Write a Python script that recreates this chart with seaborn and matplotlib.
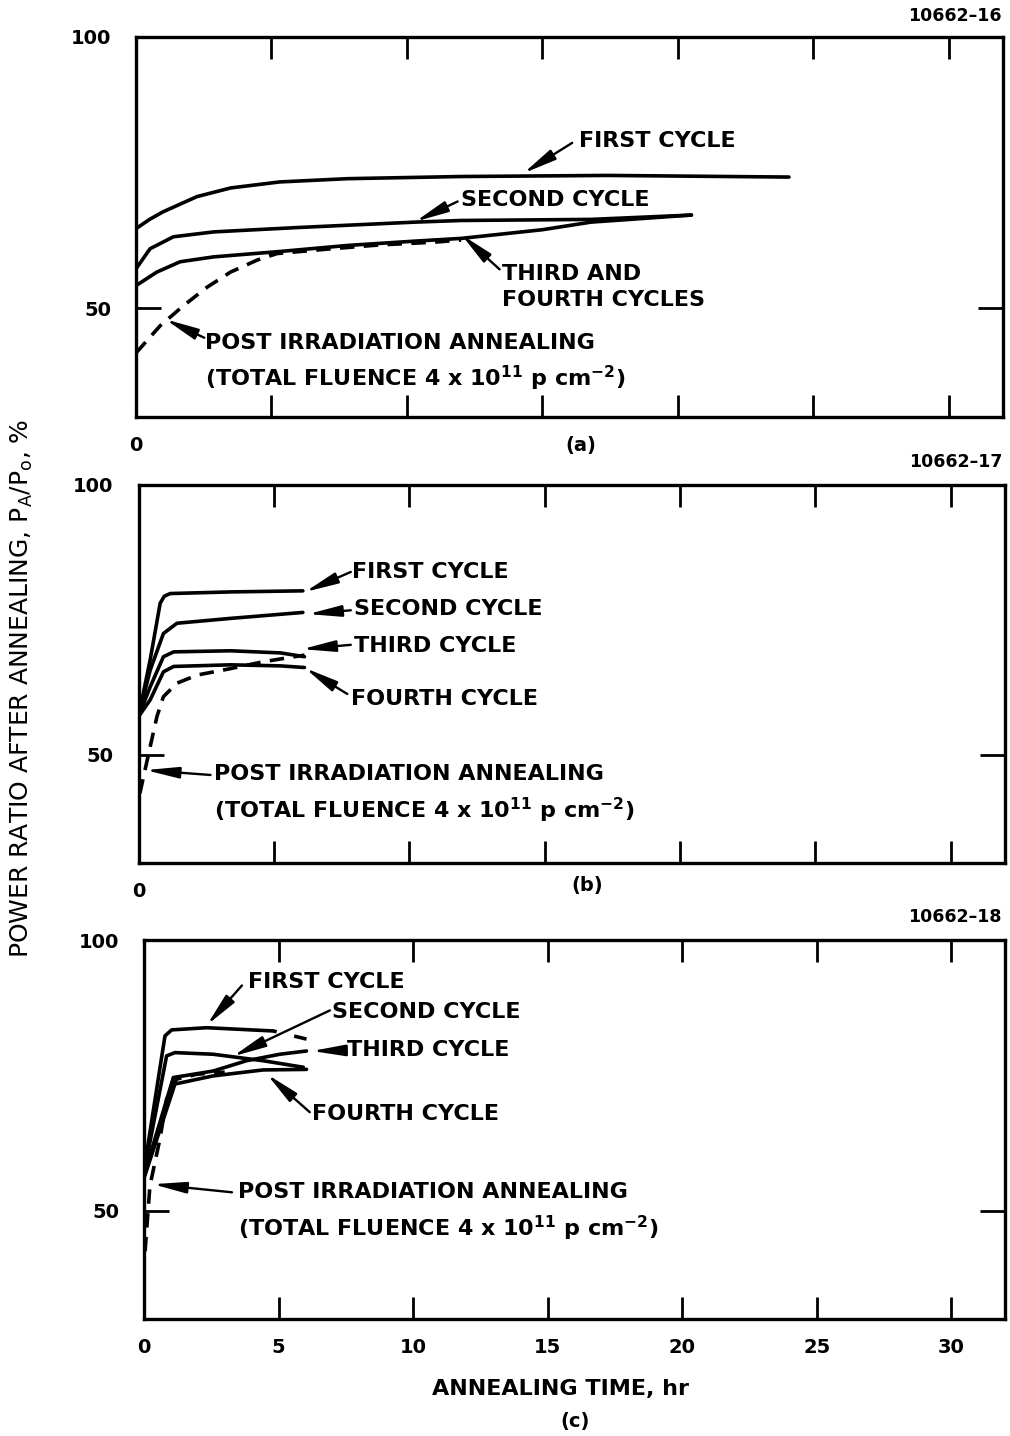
import numpy as np
import pandas as pd
import matplotlib
matplotlib.use("Agg")
import matplotlib.pyplot as plt
import seaborn as sns

# ---------------- data (annealing time in hr, power ratio in %) ----------------
# (a)
a_first_t = [0, 0.5, 1.0, 2.25, 3.5, 5.3, 7.8, 12.0, 17.4, 24.1]
a_first_v = [64.7, 66.4, 67.8, 70.6, 72.2, 73.3, 73.9, 74.3, 74.5, 74.2]
a_second_t = [0, 0.52, 1.38, 2.87, 5.96, 10.3, 12.0, 16.8, 20.5]
a_second_v = [57.3, 61.0, 63.2, 64.1, 64.9, 65.9, 66.2, 66.4, 67.2]
a_third_t = [0, 0.77, 1.63, 2.87, 5.34, 7.8, 10.3, 12.0, 15.0, 16.8, 20.5]
a_third_v = [54.2, 56.7, 58.6, 59.5, 60.5, 61.6, 62.4, 62.9, 64.5, 65.9, 67.2]
a_post_t = [0, 0.89, 1.75, 2.62, 3.49, 4.47, 5.2, 7.0, 9.0, 11.0, 12.0]
a_post_v = [41.8, 46.8, 50.5, 53.9, 56.7, 58.9, 60.1, 60.9, 61.7, 62.2, 62.6]

# (b)
b_first_t = [0, 0.43, 0.8, 0.95, 1.17, 3.4, 6.07]
b_first_v = [57.1, 67.6, 78.1, 79.4, 79.9, 80.2, 80.4]
b_second_t = [0, 0.43, 0.92, 1.42, 3.4, 6.07]
b_second_v = [57.1, 65.7, 72.5, 74.4, 75.3, 76.4]
b_third_t = [0, 0.43, 0.92, 1.3, 3.4, 5.26, 6.13]
b_third_v = [57.1, 62.6, 68.2, 69.1, 69.3, 68.9, 68.2]
b_fourth_t = [0, 0.43, 0.92, 1.3, 3.4, 5.26, 6.13]
b_fourth_v = [57.1, 60.2, 65.4, 66.4, 66.7, 66.5, 66.2]
b_post_t = [0.05, 0.43, 0.68, 0.92, 1.42, 2.16, 3.4, 4.64, 6.13]
b_post_v = [42.9, 51.5, 57.1, 60.8, 63.3, 64.8, 66.0, 67.3, 68.5]

# (c)
c_first_t = [0, 0.78, 1.03, 2.33, 4.8]
c_first_v = [57.5, 82.3, 83.4, 83.8, 83.2]
c_first_ext_t = [4.8, 6.04]
c_first_ext_v = [83.2, 81.7]
c_second_t = [0, 0.84, 1.15, 2.57, 4.43, 5.92]
c_second_v = [57.0, 78.6, 79.2, 78.9, 77.7, 76.5]
c_third_t = [0, 1.09, 2.57, 3.81, 5.05, 6.04]
c_third_v = [56.5, 74.6, 75.8, 77.7, 78.9, 79.5]
c_fourth_t = [0, 1.15, 2.57, 4.43, 6.04]
c_fourth_v = [56.0, 73.4, 74.9, 76.0, 76.1]
c_post_t = [0.04, 0.22, 0.59, 0.84, 1.21, 1.96, 3.0]
c_post_v = [42.5, 54.6, 63.2, 70.6, 74.3, 75.2, 75.6]

x_ticks = [0, 5, 10, 15, 20, 25, 30]
y_ticks = [50, 100]
fluence = "(TOTAL FLUENCE 4 x 10$^{11}$ p cm$^{-2}$)"
post_label = "POST IRRADIATION ANNEALING"

# ---------------- style ----------------
sns.set_style("ticks")
plt.rcParams["font.family"] = ["DejaVu Sans"]
plt.rcParams["font.weight"] = "bold"
plt.rcParams["mathtext.default"] = "regular"
plt.rcParams["axes.linewidth"] = 2.4
for key in ["text.color", "axes.labelcolor", "xtick.color", "ytick.color", "axes.edgecolor"]:
    plt.rcParams[key] = "black"

LW = 2.6
TXT = 16

fig = plt.figure(figsize=(10.10, 14.36), dpi=100)

W, H = 1010, 1436


def axes_px(left, right, top, bottom):
    return fig.add_axes([left / W, 1 - bottom / H, (right - left) / W, (bottom - top) / H])


ax_a = axes_px(136, 1003, 37, 417)
ax_b = axes_px(138.5, 1005, 485, 863)
ax_c = axes_px(144, 1005, 940, 1319)


def curve(ax, t, v, dashed=False, ls=None):
    df = pd.DataFrame({"t": t, "v": v})
    sns.lineplot(data=df, x="t", y="v", color="black", lw=LW, estimator=None,
                 sort=False, ax=ax, legend=False)
    line = ax.get_lines()[-1]
    line.set_solid_capstyle("round")
    line.set_solid_joinstyle("round")
    if dashed:
        line.set_linestyle((0, (4.0, 2.6)))
    if ls is not None:
        line.set_linestyle(ls)


def arrow(ax, tail, tip):
    ax.annotate("", xy=tip, xytext=tail,
                arrowprops=dict(arrowstyle="-|>,head_length=1.0,head_width=0.17",
                                color="black", lw=1.7, shrinkA=0, shrinkB=0,
                                mutation_scale=20))


def setup(ax, show_all_xlabels):
    ax.set_xlim(0, 32)
    ax.set_ylim(30, 100)
    ax.set_xticks(x_ticks)
    if show_all_xlabels:
        ax.set_xticklabels([str(v) for v in x_ticks])
    else:
        ax.set_xticklabels(["0"] + [""] * (len(x_ticks) - 1))
    ax.set_yticks(y_ticks)
    ax.set_yticklabels([str(v) for v in y_ticks])
    ax.tick_params(axis="x", direction="in", length=16, width=2.0, top=True, bottom=True,
                   labelsize=14, pad=14)
    ax.tick_params(axis="y", direction="in", length=18, width=2.0, left=True, right=True,
                   labelsize=14, pad=18)
    ax.set_xlabel("")
    ax.set_ylabel("")
    for s in ax.spines.values():
        s.set_visible(True)
        s.set_linewidth(2.4)


def label(ax, x, y, s):
    ax.text(x, y, s, fontsize=TXT, va="center", fontweight="bold")


# ---------------- (a) ----------------
curve(ax_a, a_first_t, a_first_v)
curve(ax_a, a_second_t, a_second_v)
curve(ax_a, a_third_t, a_third_v)
curve(ax_a, a_post_t, a_post_v, dashed=True)
setup(ax_a, False)
label(ax_a, 16.35, 80.9, "FIRST CYCLE")
arrow(ax_a, (16.1, 80.5), (14.3, 74.9))
label(ax_a, 12.01, 69.9, "SECOND CYCLE")
arrow(ax_a, (11.87, 69.7), (10.31, 66.0))
label(ax_a, 13.5, 56.3, "THIRD AND")
label(ax_a, 13.5, 51.5, "FOURTH CYCLES")
arrow(ax_a, (13.42, 57.2), (12.01, 63.6))
label(ax_a, 2.56, 43.7, post_label)
label(ax_a, 2.56, 37.2, fluence)
arrow(ax_a, (2.52, 44.6), (1.08, 48.0))

# ---------------- (b) ----------------
curve(ax_b, b_first_t, b_first_v)
curve(ax_b, b_second_t, b_second_v)
curve(ax_b, b_third_t, b_third_v)
curve(ax_b, b_fourth_t, b_fourth_v)
curve(ax_b, b_post_t, b_post_v, dashed=True)
setup(ax_b, False)
label(ax_b, 7.9, 83.9, "FIRST CYCLE")
arrow(ax_b, (7.84, 83.9), (6.15, 80.2))
label(ax_b, 7.94, 77.0, "SECOND CYCLE")
arrow(ax_b, (7.84, 76.8), (6.26, 76.1))
label(ax_b, 7.94, 70.2, "THIRD CYCLE")
arrow(ax_b, (7.84, 70.4), (6.04, 69.6))
label(ax_b, 7.86, 60.4, "FOURTH CYCLE")
arrow(ax_b, (7.71, 61.3), (6.15, 66.1))
label(ax_b, 2.77, 46.5, post_label)
label(ax_b, 2.77, 39.8, fluence)
arrow(ax_b, (2.66, 46.3), (0.26, 47.2))

# ---------------- (c) ----------------
curve(ax_c, c_first_t, c_first_v)
curve(ax_c, c_first_ext_t, c_first_ext_v, ls=(5, (6, 5)))
curve(ax_c, c_second_t, c_second_v)
curve(ax_c, c_third_t, c_third_v)
curve(ax_c, c_fourth_t, c_fourth_v)
curve(ax_c, c_post_t, c_post_v, dashed=True)
setup(ax_c, True)
label(ax_c, 3.86, 92.2, "FIRST CYCLE")
arrow(ax_c, (3.64, 91.6), (2.34, 84.3))
label(ax_c, 6.98, 86.7, "SECOND CYCLE")
arrow(ax_c, (6.91, 87.0), (3.30, 78.5))
label(ax_c, 7.54, 79.6, "THIRD CYCLE")
arrow(ax_c, (7.46, 79.6), (6.24, 79.5))
label(ax_c, 6.24, 67.8, "FOURTH CYCLE")
arrow(ax_c, (6.16, 68.2), (4.57, 75.2))
label(ax_c, 3.49, 53.4, post_label)
label(ax_c, 3.49, 46.8, fluence)
arrow(ax_c, (3.27, 53.4), (0.33, 54.9))

# ---------------- figure-level texts ----------------
def ftext(x, y, s, **kw):
    fig.text(x / W, 1 - y / H, s, **kw)


ftext(1002, 16, "10662\u201316", ha="right", va="center", fontsize=12.5, fontweight="bold")
ftext(1002, 462, "10662\u201317", ha="right", va="center", fontsize=12.5, fontweight="bold")
ftext(1002, 917, "10662\u201318", ha="right", va="center", fontsize=12.5, fontweight="bold")
ftext(581, 446, "(a)", ha="center", va="center", fontsize=14)
ftext(587, 885, "(b)", ha="center", va="center", fontsize=14)
ftext(575, 1421, "(c)", ha="center", va="center", fontsize=14)
ftext(560, 1389, "ANNEALING TIME, hr", ha="center", va="center", fontsize=TXT)
ftext(22, 688, "POWER RATIO AFTER ANNEALING, P$_A$/P$_o$, %", ha="center", va="center",
      rotation=90, fontsize=18, fontweight="normal")

fig.savefig("out.png", dpi=100, facecolor="white")
